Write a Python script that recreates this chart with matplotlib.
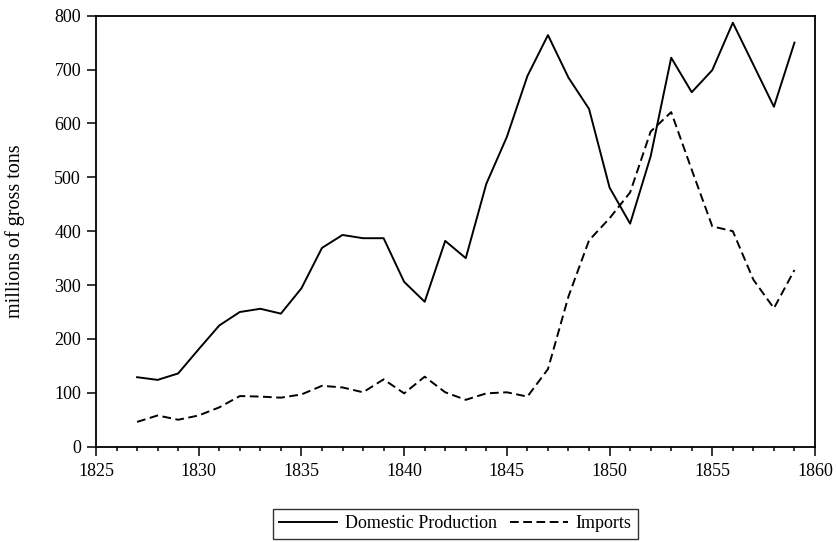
import matplotlib
matplotlib.use("Agg")
import matplotlib.pyplot as plt
from matplotlib.ticker import MultipleLocator

years = list(range(1827, 1860))
domestic = [129, 124, 136, 181, 225, 250, 256, 247, 294, 369, 393, 387, 387, 306, 269, 382, 350,
            488, 575, 688, 764, 685, 627, 481, 414, 539, 722, 658, 699, 787, 709, 631, 750]
imports = [46, 58, 50, 58, 73, 94, 93, 91, 97, 113, 110, 101, 125, 99, 130, 101, 87,
           99, 101, 93, 144, 279, 383, 424, 472, 585, 621, 514, 409, 400, 310, 257, 328]
x_ticks = [1825, 1830, 1835, 1840, 1845, 1850, 1855, 1860]
y_ticks = [0, 100, 200, 300, 400, 500, 600, 700, 800]

plt.rcParams['font.family'] = ['Liberation Serif', 'DejaVu Serif']

W, H = 836, 542
fig = plt.figure(figsize=(W/100, H/100), dpi=100)
left, right, top, bottom = 96, 815, 15.7, 446.7
ax = fig.add_axes([left/W, 1 - bottom/H, (right-left)/W, (bottom-top)/H])

ax.plot(years, domestic, color='black', linewidth=1.4, label='Domestic Production')
ax.plot(years, imports, color='black', linewidth=1.4, linestyle=(0, (4.5, 2.3)), label='Imports')

ax.set_xlim(1825, 1860)
ax.set_ylim(0, 800)
ax.set_xticks(x_ticks)
ax.set_yticks(y_ticks)
ax.xaxis.set_minor_locator(MultipleLocator(1))
ax.tick_params(axis='both', which='major', direction='out', length=6.5, width=1.1,
               labelsize=13, pad=4.3)
ax.tick_params(axis='x', which='major', pad=5.5)
ax.tick_params(axis='x', which='minor', direction='out', length=3.2, width=1.1)
ax.tick_params(top=False, right=False)
for s in ax.spines.values():
    s.set_linewidth(1.3)

ax.set_ylabel('millions of gross tons', fontsize=14.5)
ax.yaxis.set_label_coords((25 - left) / (right - left), 0.5)

leg = ax.legend(loc='upper center', bbox_to_anchor=(0.5, -(509 - bottom) / (bottom - top)),
                ncol=2, frameon=True, fancybox=False, edgecolor='black', fontsize=13,
                handlelength=3.2, columnspacing=0.7, handletextpad=0.45,
                borderpad=0.35, borderaxespad=0)
leg.get_frame().set_linewidth(1.0)

fig.savefig('out.png', dpi=100)
